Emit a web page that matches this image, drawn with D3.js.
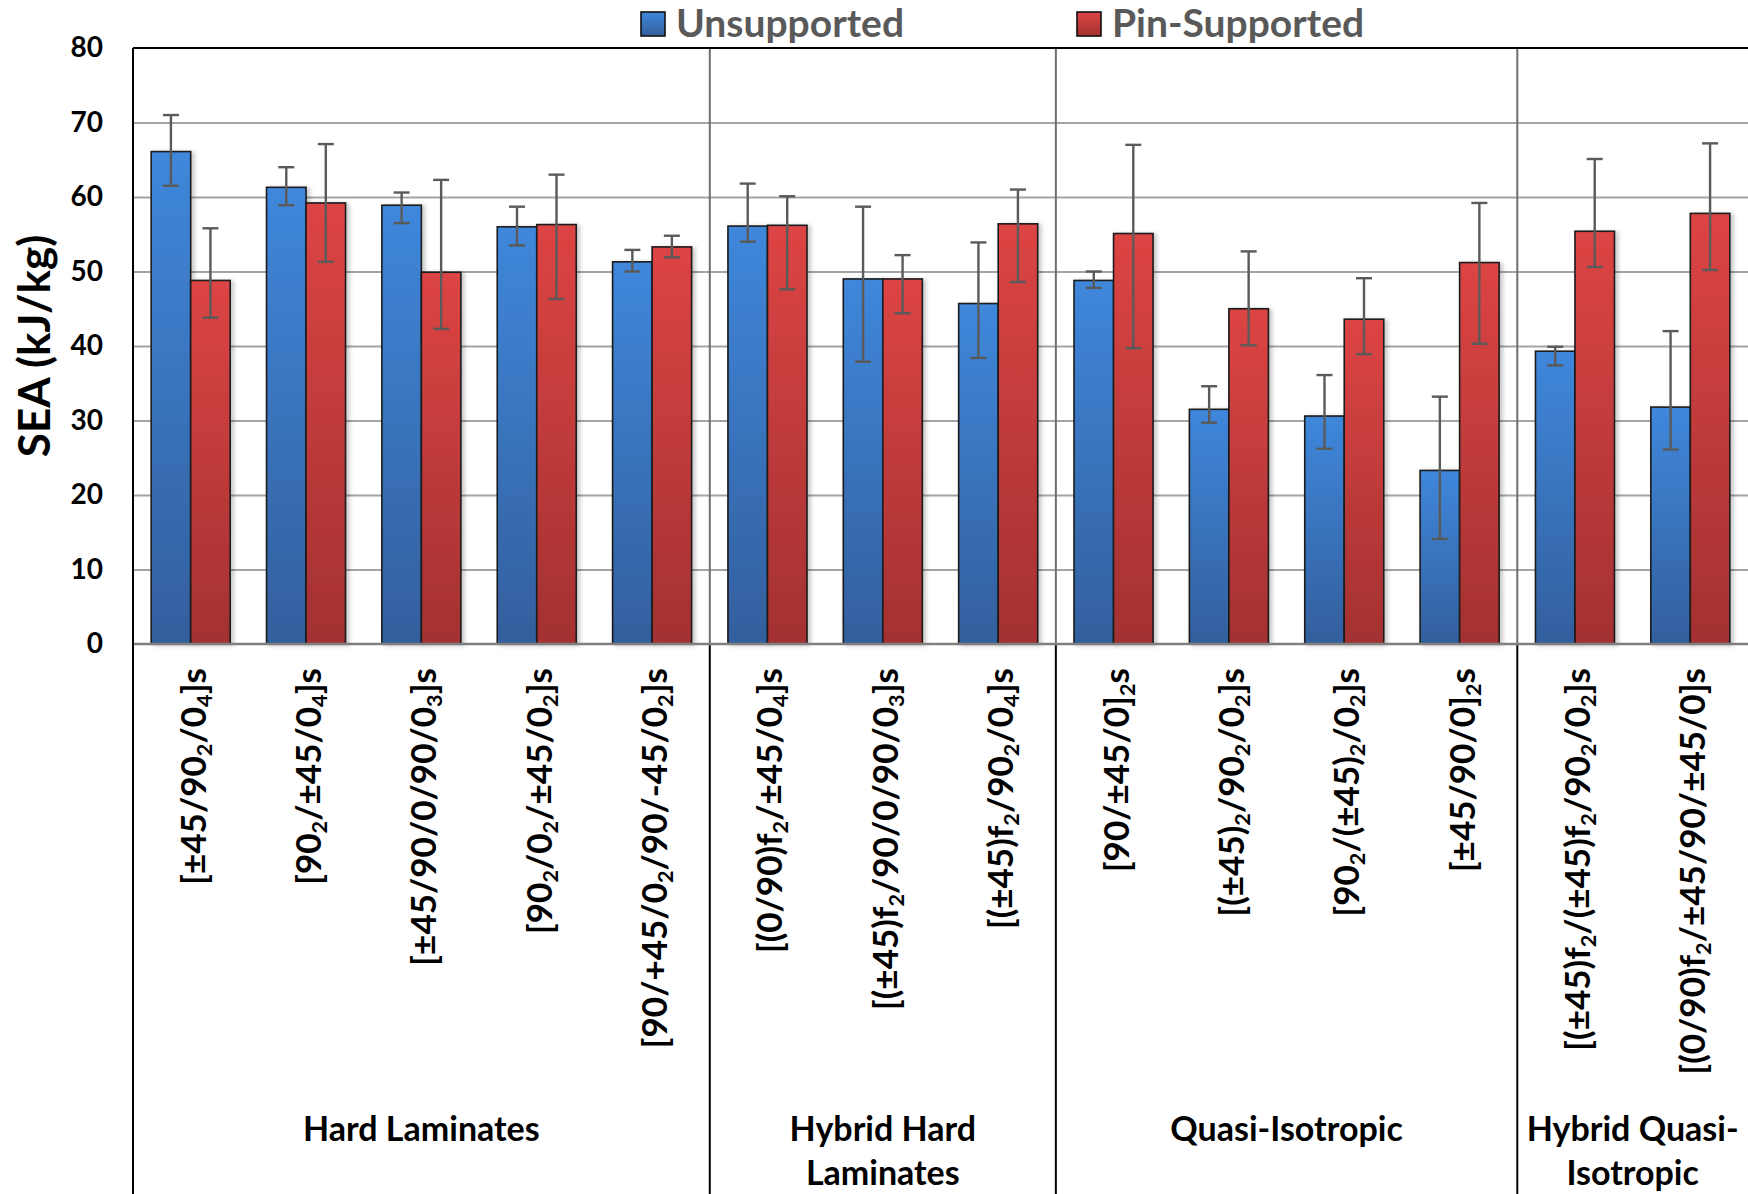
<!DOCTYPE html>
<html>
<head>
<meta charset="utf-8">
<script src="https://cdn.jsdelivr.net/npm/d3@7"></script>
<style>
  html, body { margin: 0; padding: 0; background: #ffffff; }
  svg { display: block; }
  text { font-family: Lato, "Open Sans", sans-serif; font-weight: 700; }
</style>
</head>
<body>
<script>
// Specific energy absorption of laminate lay-ups, unsupported vs pin-supported.
// "_d" in a lay-up name marks a subscript digit.
const categories = [
  "[±45/90_2/0_4]s",
  "[90_2/±45/0_4]s",
  "[±45/90/0/90/0_3]s",
  "[90_2/0_2/±45/0_2]s",
  "[90/+45/0_2/90/-45/0_2]s",
  "[(0/90)f_2/±45/0_4]s",
  "[(±45)f_2/90/0/90/0_3]s",
  "[(±45)f_2/90_2/0_4]s",
  "[90/±45/0]_2s",
  "[(±45)_2/90_2/0_2]s",
  "[90_2/(±45)_2/0_2]s",
  "[±45/90/0]_2s",
  "[(±45)f_2/(±45)f_2/90_2/0_2]s",
  "[(0/90)f_2/±45/90/±45/0]s"
];

const groups = [
  { lines: ["Hard Laminates"], count: 5 },
  { lines: ["Hybrid Hard", "Laminates"], count: 3 },
  { lines: ["Quasi-Isotropic"], count: 4 },
  { lines: ["Hybrid Quasi-", "Isotropic"], count: 2 }
];

const seriesNames = ["Unsupported", "Pin-Supported"];

// SEA values (kJ/kg) with the upper and lower ends of each error bar
const unsupported     = [66.1, 61.3, 58.9, 56.0, 51.3, 56.1, 49.0, 45.7, 48.8, 31.5, 30.6, 23.3, 39.3, 31.8];
const unsupportedHigh = [71.0, 64.0, 60.6, 58.7, 52.9, 61.8, 58.7, 53.9, 50.0, 34.6, 36.1, 33.2, 39.9, 42.0];
const unsupportedLow  = [61.5, 58.9, 56.5, 53.5, 50.0, 54.0, 37.9, 38.4, 47.8, 29.7, 26.2, 14.1, 37.4, 26.1];

const pinSupported     = [48.8, 59.2, 49.9, 56.3, 53.3, 56.2, 49.0, 56.4, 55.1, 45.0, 43.6, 51.2, 55.4, 57.8];
const pinSupportedHigh = [55.8, 67.1, 62.3, 63.0, 54.8, 60.1, 52.2, 61.0, 67.0, 52.7, 49.1, 59.2, 65.1, 67.2];
const pinSupportedLow  = [43.8, 51.3, 42.3, 46.3, 51.9, 47.6, 44.4, 48.6, 39.7, 40.1, 38.9, 40.3, 50.6, 50.2];

const yTicks = [0, 10, 20, 30, 40, 50, 60, 70, 80];
const yTitle = "SEA (kJ/kg)";

// ---- layout ----
const W = 1748, H = 1194;
const plotLeft = 133, plotRight = 1748, plotTop = 48, plotBottom = 644;

const svg = d3.select("body").append("svg")
  .attr("width", W).attr("height", H);

const defs = svg.append("defs");
function vGrad(id, c0, c1) {
  const g = defs.append("linearGradient").attr("id", id)
    .attr("x1", 0).attr("y1", 0).attr("x2", 0).attr("y2", 1);
  g.append("stop").attr("offset", "0%").attr("stop-color", c0);
  g.append("stop").attr("offset", "100%").attr("stop-color", c1);
}
vGrad("gBlue", "#3f87db", "#335f9d");
vGrad("gRed", "#dd4444", "#a33131");

const shadow = defs.append("filter").attr("id", "barShadow")
  .attr("x", "-20%").attr("y", "-5%").attr("width", "150%").attr("height", "115%");
shadow.append("feDropShadow").attr("dx", 3).attr("dy", 1)
  .attr("stdDeviation", 2.2).attr("flood-color", "#000").attr("flood-opacity", 0.22);

const y = d3.scaleLinear().domain([0, 80]).range([plotBottom, plotTop]);

const x = d3.scaleBand().domain(d3.range(categories.length))
  .range([plotLeft, plotRight]).paddingInner(0.315).paddingOuter(0.1575);
const xs = d3.scaleBand().domain([0, 1]).range([0, x.bandwidth()]);
const step = x.step();
const edge = i => x(i) - step * x.paddingInner() / 2;

// horizontal gridlines
svg.append("g")
  .attr("transform", `translate(${plotLeft},0)`)
  .call(d3.axisLeft(y).tickValues(yTicks.filter(t => t > 0 && t < 80))
    .tickSize(-(plotRight - plotLeft)).tickFormat(""))
  .call(g => g.select(".domain").remove())
  .call(g => g.selectAll(".tick line").attr("stroke", "#a4a4a4").attr("stroke-width", 2));

// group separators inside the plot
let acc = 0;
const bounds = [];
groups.forEach(gr => { bounds.push(acc); acc += gr.count; });
svg.append("g").selectAll("line")
  .data(bounds.slice(1))
  .join("line")
  .attr("x1", d => edge(d)).attr("x2", d => edge(d))
  .attr("y1", plotTop).attr("y2", plotBottom)
  .attr("stroke", "#6e6e6e").attr("stroke-width", 2);

// bars
const series = [
  { name: seriesNames[0], v: unsupported, hi: unsupportedHigh, lo: unsupportedLow, fill: "url(#gBlue)" },
  { name: seriesNames[1], v: pinSupported, hi: pinSupportedHigh, lo: pinSupportedLow, fill: "url(#gRed)" }
];

const barG = svg.append("g");
series.forEach((s, si) => {
  barG.append("g").attr("filter", "url(#barShadow)")
    .selectAll("rect")
    .data(s.v)
    .join("rect")
    .attr("x", (d, i) => x(i) + xs(si))
    .attr("y", d => y(d))
    .attr("width", xs.bandwidth())
    .attr("height", d => y(0) - y(d))
    .attr("fill", s.fill)
    .attr("stroke", "#1b1b1b").attr("stroke-width", 1.6);
});

// error bars
const capW = 16;
series.forEach((s, si) => {
  const g = svg.append("g").attr("stroke", "#5a5a5a").attr("stroke-width", 2.4).attr("fill", "none");
  s.v.forEach((d, i) => {
    const cx = x(i) + xs(si) + xs.bandwidth() / 2;
    g.append("line").attr("x1", cx).attr("x2", cx).attr("y1", y(s.hi[i])).attr("y2", y(s.lo[i]));
    g.append("line").attr("x1", cx - capW / 2).attr("x2", cx + capW / 2).attr("y1", y(s.hi[i])).attr("y2", y(s.hi[i]));
    g.append("line").attr("x1", cx - capW / 2).attr("x2", cx + capW / 2).attr("y1", y(s.lo[i])).attr("y2", y(s.lo[i]));
  });
});

// baseline
svg.append("line")
  .attr("x1", plotLeft).attr("x2", plotRight).attr("y1", y(0)).attr("y2", y(0))
  .attr("stroke", "#7f7f7f").attr("stroke-width", 2.6);

// top border and left axis
svg.append("line").attr("x1", plotLeft).attr("x2", plotRight).attr("y1", plotTop).attr("y2", plotTop)
  .attr("stroke", "#000").attr("stroke-width", 2);
svg.append("line").attr("x1", plotLeft).attr("x2", plotLeft).attr("y1", plotTop).attr("y2", H)
  .attr("stroke", "#000").attr("stroke-width", 2);

// group separators below the axis
svg.append("g").selectAll("line")
  .data(bounds.slice(1))
  .join("line")
  .attr("x1", d => edge(d)).attr("x2", d => edge(d))
  .attr("y1", plotBottom + 1.3).attr("y2", H)
  .attr("stroke", "#000").attr("stroke-width", 2);

// y tick labels
svg.append("g")
  .attr("transform", `translate(${plotLeft},0)`)
  .call(d3.axisLeft(y).tickValues(yTicks).tickSize(0).tickPadding(30).tickFormat(d3.format("d")))
  .call(g => g.select(".domain").remove())
  .call(g => g.selectAll("text")
    .attr("fill", "#000").style("font-size", "28px")
    .style("font-family", "Lato, sans-serif").style("font-weight", 700));

// y axis title
svg.append("text")
  .attr("transform", `translate(50,${(plotTop + plotBottom) / 2}) rotate(-90)`)
  .attr("text-anchor", "middle")
  .style("font-size", "44px").attr("fill", "#000")
  .text(yTitle);

// category labels with subscripts
function addRich(textSel, str, subShift) {
  const parts = str.split(/(_\d)/).filter(p => p.length);
  let shifted = false;
  parts.forEach(p => {
    if (p.startsWith("_")) {
      textSel.append("tspan").attr("dy", shifted ? 0 : subShift)
        .style("font-size", "0.62em").text(p.slice(1));
      shifted = true;
    } else {
      textSel.append("tspan").attr("dy", shifted ? -subShift : 0).text(p);
      shifted = false;
    }
  });
}
categories.forEach((c, i) => {
  const cx = x(i) + x.bandwidth() / 2;
  const t = svg.append("text")
    .attr("transform", `translate(${cx + 15},668) rotate(-90)`)
    .attr("text-anchor", "end")
    .style("font-size", "35px").attr("fill", "#000");
  addRich(t, c, 6);
});

// group labels
groups.forEach((gr, gi) => {
  const x0 = edge(bounds[gi]);
  const x1 = gi + 1 < groups.length ? edge(bounds[gi + 1]) : edge(bounds[gi]) + gr.count * step;
  const t = svg.append("text")
    .attr("text-anchor", "middle")
    .style("font-size", "34px").attr("fill", "#000");
  gr.lines.forEach((ln, li) => {
    t.append("tspan").attr("x", (x0 + x1) / 2).attr("y", 1141 + li * 44).text(ln);
  });
});

// legend
const legendPos = [641, 1077];
const legendFill = ["url(#gBlue)", "url(#gRed)"];
seriesNames.forEach((n, i) => {
  const g = svg.append("g").attr("transform", `translate(${legendPos[i]},12)`);
  g.append("rect").attr("width", 24).attr("height", 24)
    .attr("fill", legendFill[i]).attr("stroke", "#111").attr("stroke-width", 1.6);
  g.append("text").attr("x", 35).attr("y", 25)
    .style("font-size", "39px").attr("fill", "#595959").text(n);
});
</script>
</body>
</html>
